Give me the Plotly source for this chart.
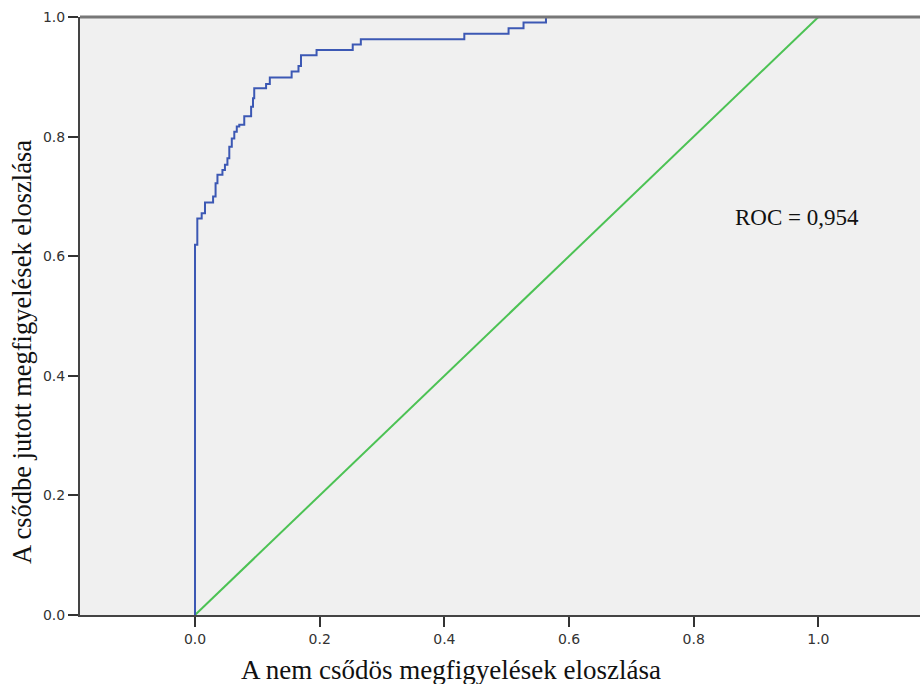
import plotly.graph_objects as go

fpr = [0, 0.0037, 0.0107, 0.016, 0.029, 0.033, 0.036, 0.044, 0.048, 0.052, 0.055,
       0.059, 0.063, 0.067, 0.071, 0.079, 0.090, 0.093, 0.095, 0.114, 0.120, 0.155,
       0.166, 0.170, 0.195, 0.253, 0.266, 0.432, 0.503, 0.527, 0.563, 1.0]
tpr = [0, 0.619, 0.663, 0.672, 0.690, 0.700, 0.722, 0.736, 0.744, 0.753, 0.764,
       0.783, 0.797, 0.808, 0.817, 0.820, 0.834, 0.850, 0.864, 0.881, 0.888, 0.899,
       0.909, 0.918, 0.936, 0.945, 0.954, 0.963, 0.972, 0.981, 0.991, 1.0]
ref_x = [0, 1]
ref_y = [0, 1]
tick_vals = [0.0, 0.2, 0.4, 0.6, 0.8, 1.0]
tick_text = ["0.0", "0.2", "0.4", "0.6", "0.8", "1.0"]
auc_label = "ROC = 0,954"
x_title = "A nem csődös megfigyelések eloszlása"
y_title = "A csődbe jutott megfigyelések eloszlása"

fig = go.Figure()
fig.add_trace(go.Scatter(x=ref_x, y=ref_y, mode="lines",
                         line=dict(color="#4cc254", width=2), hoverinfo="skip"))
fig.add_trace(go.Scatter(x=fpr, y=tpr, mode="lines", line_shape="vh",
                         line=dict(color="#3c58b4", width=2), hoverinfo="skip"))

serif = "Liberation Serif, Times New Roman"
fig.add_annotation(x=0.863, y=0.664, xref="x", yref="y", text=auc_label,
                   showarrow=False, xanchor="left", yanchor="middle",
                   font=dict(family=serif, size=23, color="#111"))
fig.add_annotation(x=0.4417, y=-0.092, xref="paper", yref="paper", text=x_title,
                   showarrow=False, xanchor="center", yanchor="middle",
                   font=dict(family=serif, size=27, color="#111"))
fig.add_annotation(x=-0.069, y=0.44, xref="paper", yref="paper", text=y_title,
                   showarrow=False, xanchor="center", yanchor="middle", textangle=-90,
                   font=dict(family=serif, size=26.5, color="#111"))

fig.add_shape(type="line", xref="paper", yref="paper", x0=0, x1=1, y0=1, y1=1,
              line=dict(color="#777", width=3))

axis_font = dict(family="DejaVu Sans", size=14, color="#333")
fig.update_layout(
    width=920, height=684,
    margin=dict(l=80, r=0, t=17, b=69),
    paper_bgcolor="white", plot_bgcolor="#f0f0f0",
    showlegend=False,
    xaxis=dict(range=[-0.1845, 1.163], tickvals=tick_vals, ticktext=tick_text,
               showgrid=False, zeroline=False, showline=True, linecolor="#444",
               linewidth=2, ticks="outside", ticklen=10, tickwidth=2, tickcolor="#333",
               tickfont=axis_font),
    yaxis=dict(range=[0, 1], tickvals=tick_vals, ticktext=tick_text,
               showgrid=False, zeroline=False, showline=True, linecolor="#444",
               linewidth=2, ticks="outside", ticklen=10, tickwidth=2, tickcolor="#333",
               tickfont=axis_font),
)

fig.write_html("out.html")
